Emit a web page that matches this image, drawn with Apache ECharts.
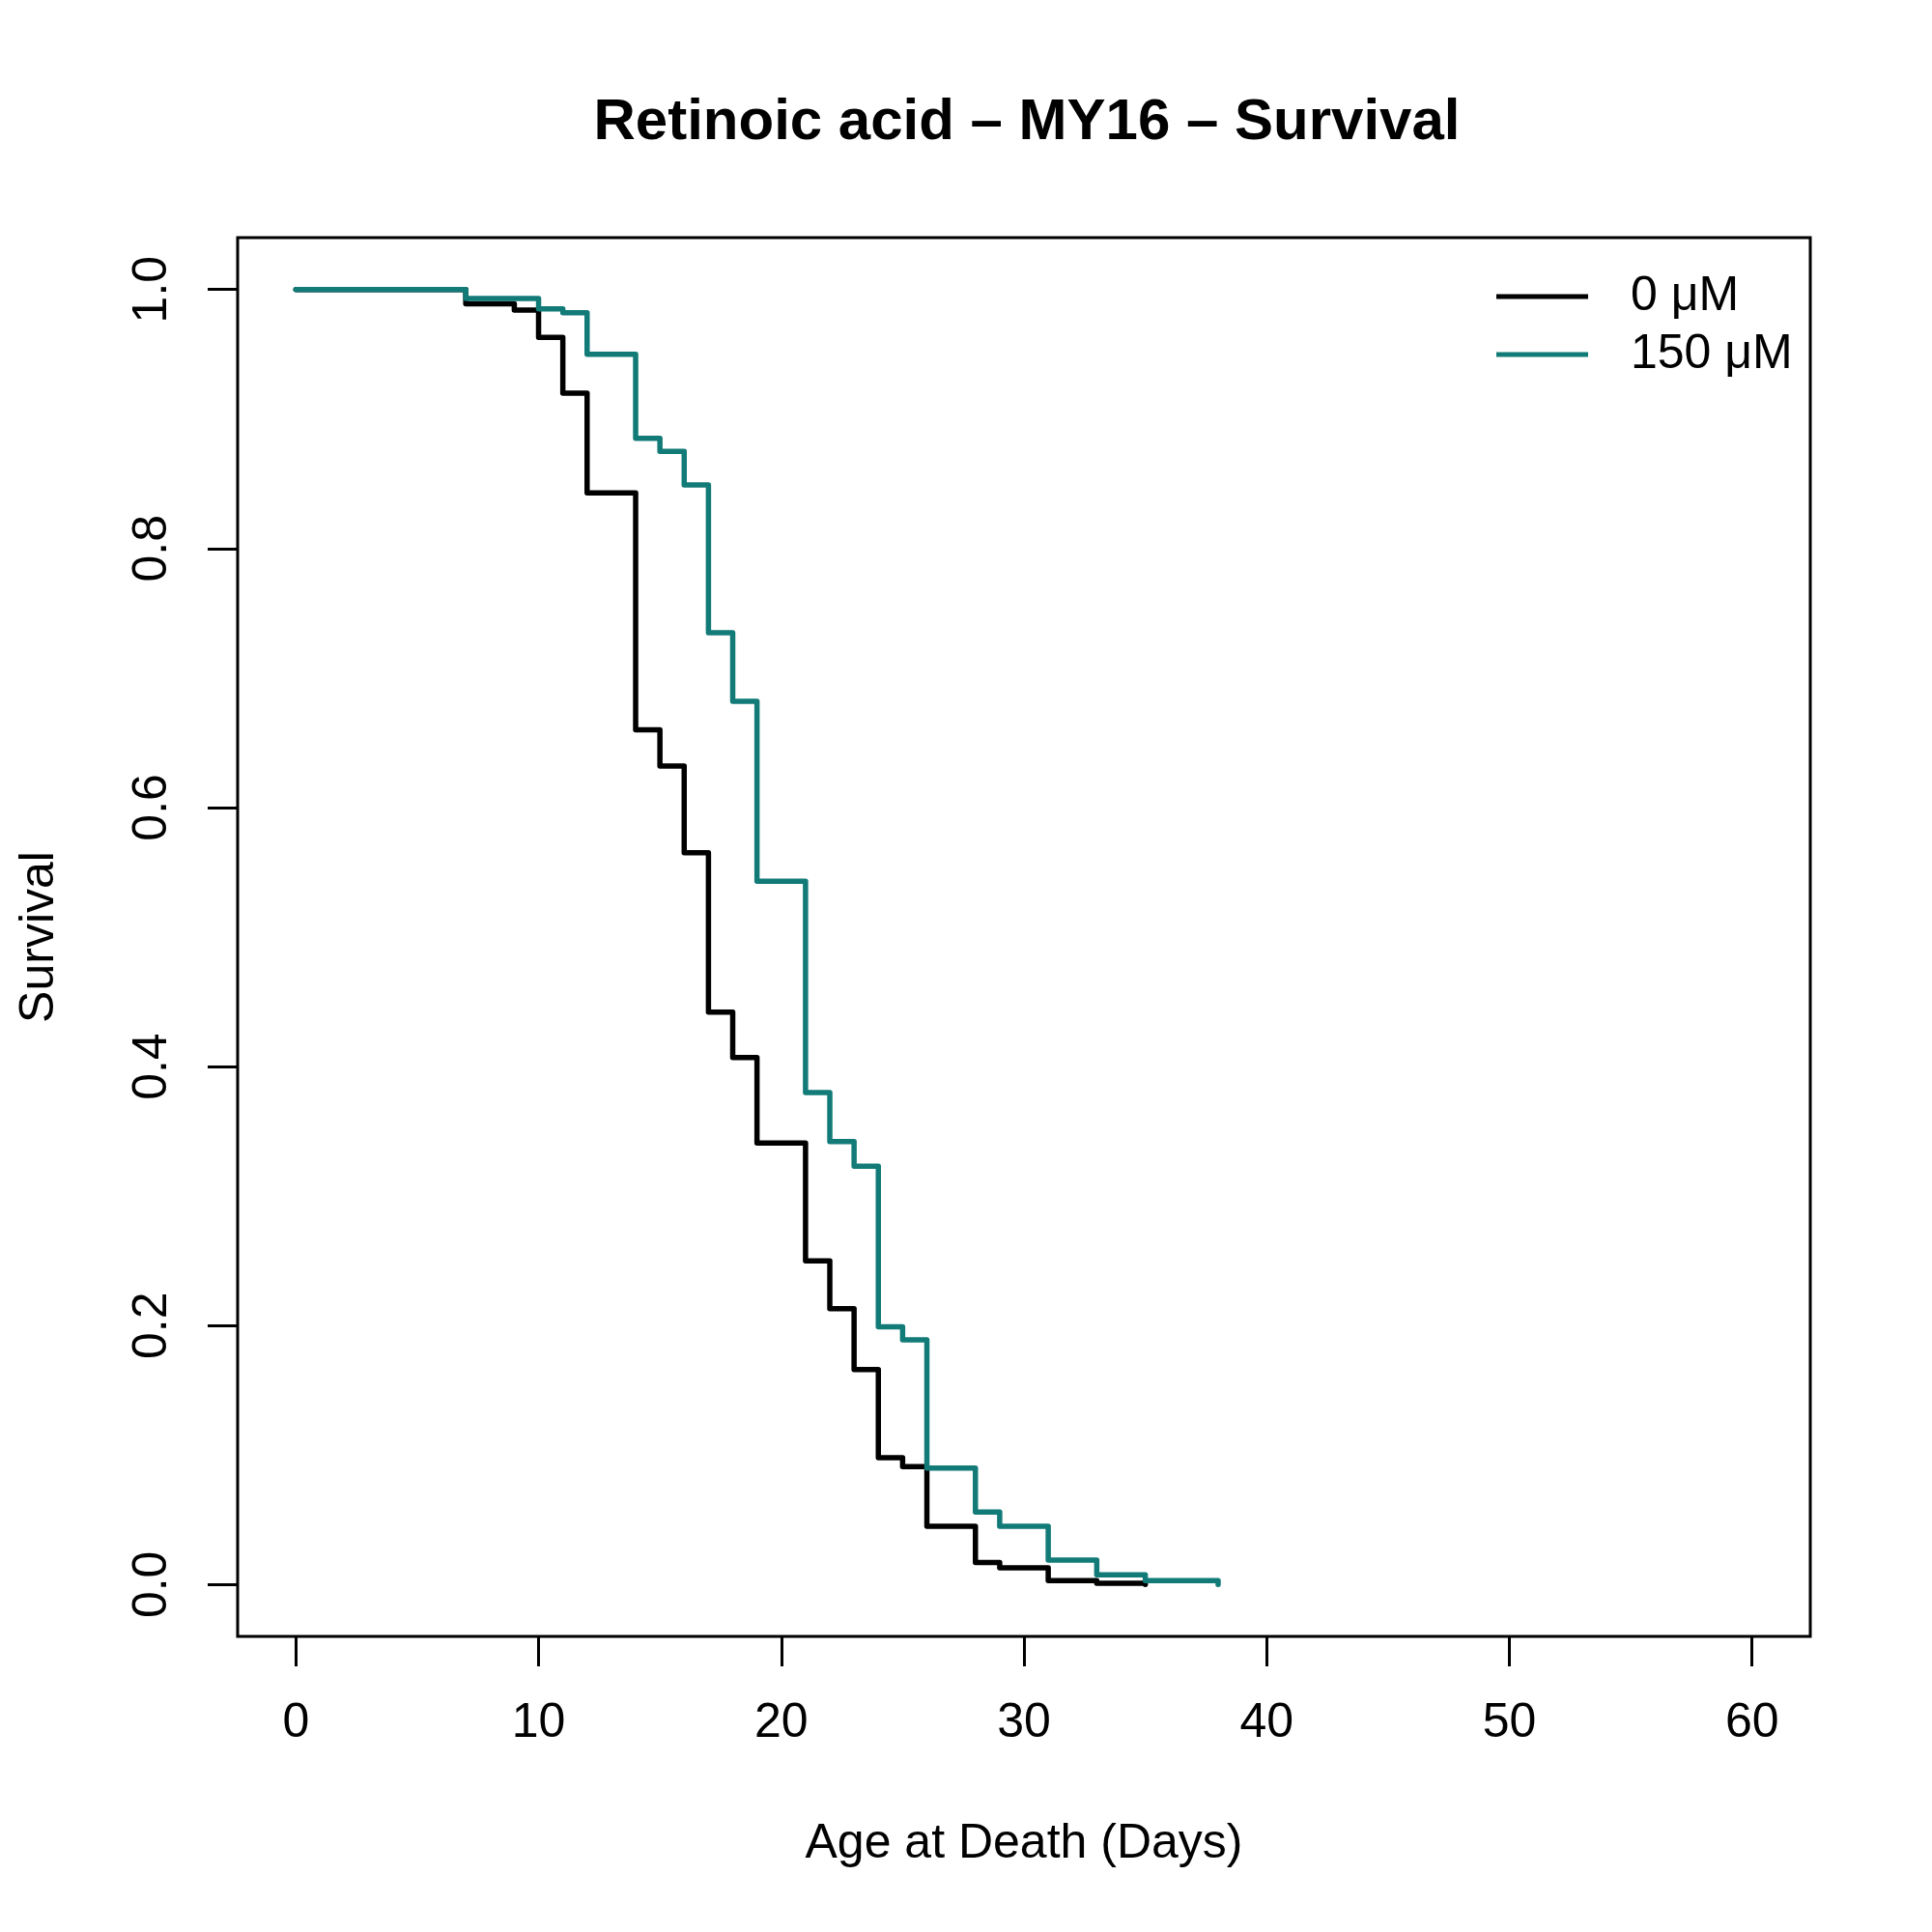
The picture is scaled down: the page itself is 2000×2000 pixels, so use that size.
<!DOCTYPE html>
<html>
<head>
    <meta charset="utf-8">
    <title>Retinoic acid – MY16 – Survival</title>
    <script src="https://cdn.jsdelivr.net/npm/echarts@6/dist/echarts.min.js"></script>
    <style>
        html, body { margin: 0; padding: 0; background: #fff; }
    </style>
</head>
<body>
<div id="chartmain" style="width:2000px; height:2000px;"></div>
<script>
    // day of each step and survival from that day on
    var days0 = [0, 7, 9, 10, 11, 12, 14, 15, 16, 17, 18, 19, 21, 22, 23, 24, 25, 26, 28, 29, 31, 33, 35];
    var surv0 = [1, 0.989, 0.984, 0.963, 0.920, 0.843, 0.660, 0.632, 0.565, 0.442, 0.407, 0.341, 0.250, 0.213, 0.166, 0.098, 0.091, 0.045, 0.017, 0.013, 0.003, 0.001, 0];
    var days150 = [0, 7, 10, 11, 12, 14, 15, 16, 17, 18, 19, 21, 22, 23, 24, 25, 26, 28, 29, 31, 33, 35, 38];
    var surv150 = [1, 0.993, 0.985, 0.982, 0.950, 0.885, 0.875, 0.849, 0.735, 0.682, 0.543, 0.380, 0.342, 0.323, 0.199, 0.189, 0.090, 0.056, 0.045, 0.019, 0.0075, 0.003, 0];
    var seriesNames = ['0 μM', '150 μM'];
    var xTicks = [0, 10, 20, 30, 40, 50, 60];
    var yTicks = [0, 0.2, 0.4, 0.6, 0.8, 1.0];

    function pairs(xs, ys) {
        var out = [];
        for (var i = 0; i < xs.length; i++) {
            out.push([xs[i], ys[i]]);
        }
        return out;
    }

    var font = 'Liberation Sans, Arial, Helvetica, sans-serif';

    var option = {
        animation: false,
        backgroundColor: '#fff',
        title: {
            text: 'Retinoic acid – MY16 – Survival',
            left: 1058,
            top: 92,
            textAlign: 'center',
            textStyle: {fontFamily: font, fontSize: 60, fontWeight: 'bold', color: '#000'}
        },
        legend: {
            data: seriesNames,
            orient: 'vertical',
            left: 1544,
            top: 272,
            itemGap: 0,
            itemWidth: 95,
            itemHeight: 5,
            icon: 'rect',
            textStyle: {fontFamily: font, fontSize: 50, color: '#000', lineHeight: 60, padding: [0, 0, 0, 39]}
        },
        grid: {
            left: 246,
            right: 126,
            top: 246,
            bottom: 306,
            show: true,
            borderColor: '#000',
            borderWidth: 3,
            containLabel: false
        },
        xAxis: {
            type: 'value',
            min: -2.4,
            max: 62.4,
            name: 'Age at Death (Days)',
            nameLocation: 'middle',
            nameGap: 190,
            nameTextStyle: {fontFamily: font, fontSize: 50, color: '#000'},
            axisLine: {show: false, onZero: false},
            splitLine: {show: false},
            axisTick: {show: true, inside: false, length: 31, customValues: xTicks, lineStyle: {color: '#000', width: 3}},
            axisLabel: {
                customValues: xTicks, margin: 65,
                fontFamily: font, fontSize: 50, color: '#000'
            }
        },
        yAxis: {
            type: 'value',
            min: -0.04,
            max: 1.04,
            name: 'Survival',
            nameLocation: 'middle',
            nameGap: 180,
            nameRotate: 90,
            nameTextStyle: {fontFamily: font, fontSize: 50, color: '#000'},
            axisLine: {show: false, onZero: false},
            splitLine: {show: false},
            axisTick: {show: true, inside: false, length: 31, customValues: yTicks, lineStyle: {color: '#000', width: 3}},
            axisLabel: {
                customValues: yTicks, margin: 63, rotate: 90,
                fontFamily: font, fontSize: 50, color: '#000',
                formatter: function (v) { return v.toFixed(1); }
            }
        },
        series: [
            {
                name: seriesNames[0],
                type: 'line',
                step: 'end',
                symbol: 'none',
                color: '#000000',
                lineStyle: {width: 5.5, cap: 'round', join: 'round'},
                data: pairs(days0, surv0)
            },
            {
                name: seriesNames[1],
                type: 'line',
                step: 'end',
                symbol: 'none',
                color: '#127B78',
                lineStyle: {width: 5.5, cap: 'round', join: 'round'},
                data: pairs(days150, surv150)
            }
        ]
    };

    var myChart = echarts.init(document.getElementById('chartmain'));
    myChart.setOption(option);
</script>
</body>
</html>
